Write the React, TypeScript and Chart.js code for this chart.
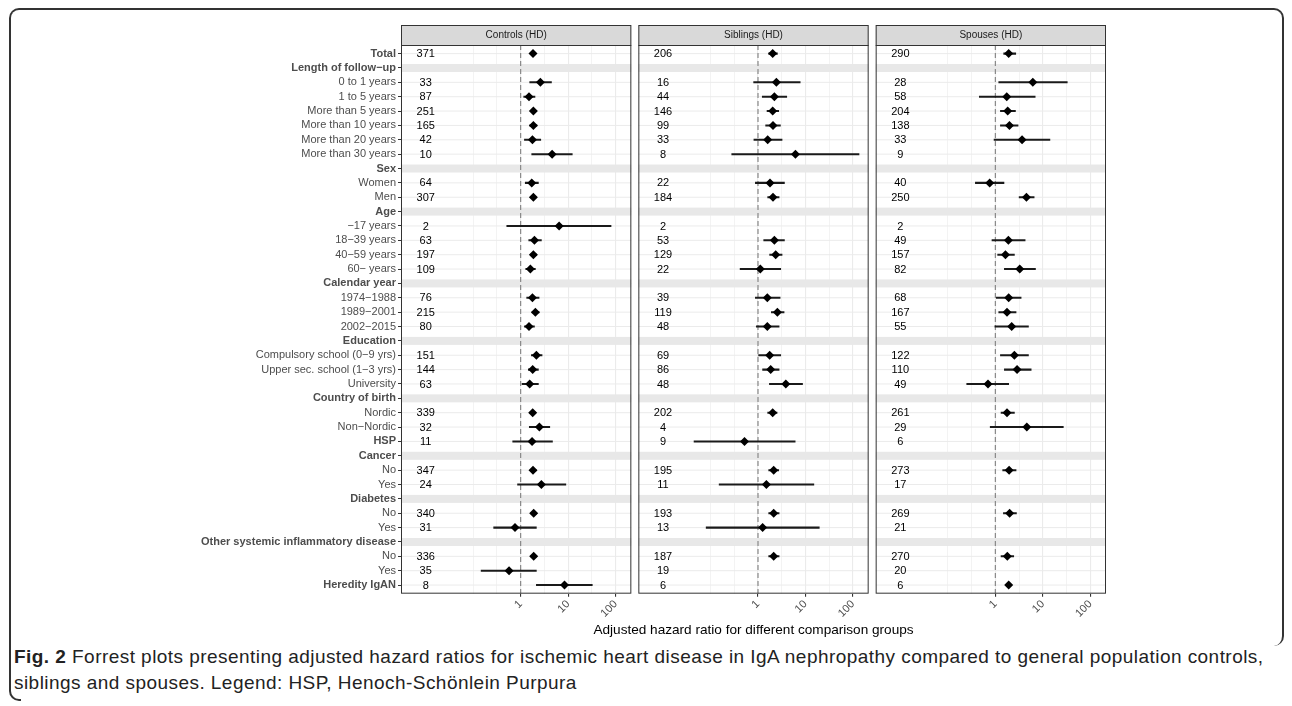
import React, { useEffect, useRef } from 'react';
import { Chart, registerables } from 'chart.js';

Chart.register(...registerables);

const FONT = "'Liberation Sans', Arial, Helvetica, sans-serif";

const ROW_LABELS = [
  'Total', 'Length of follow\u2212up', '0 to 1 years', '1 to 5 years', 'More than 5 years',
  'More than 10 years', 'More than 20 years', 'More than 30 years', 'Sex', 'Women', 'Men',
  'Age', '\u221217 years', '18\u221239 years', '40\u221259 years', '60\u2212 years',
  'Calendar year', '1974\u22121988', '1989\u22122001', '2002\u22122015', 'Education',
  'Compulsory school (0\u22129 yrs)', 'Upper sec. school (1\u22123 yrs)', 'University',
  'Country of birth', 'Nordic', 'Non\u2212Nordic', 'HSP', 'Cancer', 'No', 'Yes',
  'Diabetes', 'No', 'Yes', 'Other systemic inflammatory disease', 'No', 'Yes', 'Heredity IgAN',
];
// 'b' = bold single row, 'h' = bold group header with band, '' = normal
const ROW_KIND = [
  'b', 'h', '', '', '', '', '', '', 'h', '', '',
  'h', '', '', '', '',
  'h', '', '', '', 'h',
  '', '', '',
  'h', '', '', 'b', 'h', '', '',
  'h', '', '', 'h', '', '', 'b',
];

const PANEL_TITLES = ['Controls (HD)', 'Siblings (HD)', 'Spouses (HD)'];
const PANEL_IDS = ['x0', 'x1', 'x2'];

const N_CONTROLS = [371, null, 33, 87, 251, 165, 42, 10, null, 64, 307, null, 2, 63, 197, 109, null, 76, 215, 80, null, 151, 144, 63, null, 339, 32, 11, null, 347, 24, null, 340, 31, null, 336, 35, 8];
const HR_CONTROLS = [1.82, null, 2.6, 1.5, 1.85, 1.85, 1.77, 4.6, null, 1.71, 1.85, null, 6.46, 1.95, 1.85, 1.6, null, 1.77, 2.04, 1.5, null, 2.14, 1.79, 1.55, null, 1.79, 2.48, 1.74, null, 1.82, 2.73, null, 1.88, 0.76, null, 1.88, 0.57, 8.38];
const LO_CONTROLS = [1.6, null, 1.55, 1.16, 1.63, 1.55, 1.2, 1.71, null, 1.25, 1.63, null, 0.51, 1.48, 1.6, 1.28, null, 1.34, 1.74, 1.2, null, 1.68, 1.45, 1.07, null, 1.57, 1.52, 0.68, null, 1.6, 0.86, null, 1.65, 0.27, null, 1.65, 0.147, 2.14];
const HI_CONTROLS = [2.07, null, 4.45, 2.0, 2.15, 2.2, 2.65, 12.2, null, 2.36, 2.1, null, 80, 2.73, 2.18, 2.04, null, 2.44, 2.44, 1.95, null, 2.82, 2.36, 2.36, null, 2.07, 4.1, 4.67, null, 2.11, 8.94, null, 2.18, 2.14, null, 2.18, 2.14, 32.2];

const N_SIBLINGS = [206, null, 16, 44, 146, 99, 33, 8, null, 22, 184, null, 2, 53, 129, 22, null, 39, 119, 48, null, 69, 86, 48, null, 202, 4, 9, null, 195, 11, null, 193, 13, null, 187, 19, 6];
const HR_SIBLINGS = [2.04, null, 2.44, 2.21, 2.04, 2.07, 1.6, 6.15, null, 1.79, 2.07, null, null, 2.21, 2.36, 1.12, null, 1.57, 2.56, 1.57, null, 1.76, 1.85, 3.85, null, 2.04, null, 0.52, null, 2.14, 1.5, null, 2.14, 1.25, null, 2.14, null, null];
const LO_SIBLINGS = [1.68, null, 0.81, 1.23, 1.55, 1.45, 0.82, 0.28, null, 0.88, 1.6, null, null, 1.32, 1.76, 0.42, null, 0.88, 1.91, 0.92, null, 1.03, 1.25, 1.74, null, 1.6, null, 0.045, null, 1.68, 0.152, null, 1.68, 0.081, null, 1.68, null, null];
const HI_SIBLINGS = [2.56, null, 7.73, 4.03, 2.73, 2.96, 3.21, 134, null, 3.6, 2.78, null, null, 3.6, 3.21, 3.01, null, 2.92, 3.54, 2.78, null, 3.01, 2.78, 8.66, null, 2.52, null, 6.06, null, 2.73, 15.0, null, 2.78, 19.5, null, 2.78, null, null];

const N_SPOUSES = [290, null, 28, 58, 204, 138, 33, 9, null, 40, 250, null, 2, 49, 157, 82, null, 68, 167, 55, null, 122, 110, 49, null, 261, 29, 6, null, 273, 17, null, 269, 21, null, 270, 20, 6];
const HR_SPOUSES = [1.91, null, 6.15, 1.74, 1.82, 1.98, 3.66, null, null, 0.76, 4.52, null, null, 1.88, 1.63, 3.27, null, 1.91, 1.76, 2.21, null, 2.52, 2.87, 0.7, null, 1.76, 4.6, null, null, 1.95, null, null, 2.0, null, null, 1.79, null, 1.91];
const LO_SPOUSES = [1.5, null, 1.18, 0.46, 1.28, 1.28, 0.94, null, null, 0.38, 3.17, null, null, 0.85, 1.12, 1.55, null, 1.05, 1.18, 0.98, null, 1.28, 1.55, 0.25, null, 1.32, 0.78, null, null, 1.43, null, null, 1.48, null, null, 1.32, null, 1.75];
const HI_SPOUSES = [2.69, null, 32.7, 6.9, 2.65, 3.01, 14.1, null, null, 1.52, 6.56, null, null, 4.24, 2.52, 7.0, null, 3.49, 2.73, 4.98, null, 4.98, 5.68, 1.91, null, 2.52, 27.0, null, null, 2.73, null, null, 2.78, null, null, 2.44, null, 2.08];

const PANEL_N = [N_CONTROLS, N_SIBLINGS, N_SPOUSES];
const PANEL_HR = [HR_CONTROLS, HR_SIBLINGS, HR_SPOUSES];
const PANEL_LO = [LO_CONTROLS, LO_SIBLINGS, LO_SPOUSES];
const PANEL_HI = [HI_CONTROLS, HI_SIBLINGS, HI_SPOUSES];

const X_GRID_VALUES = [0.1, 0.3162, 1, 3.162, 10, 31.62, 100];
const X_TICK_LABELS = ['', '', '1', '', '10', '', '100'];
const X_MIN = 0.00302;
const X_MAX = 214;
const N_TEXT_X = 0.01;
const REF_LINE_X = 1;

const AXIS_TITLE = 'Adjusted hazard ratio for different comparison groups';

const facetPlugin = {
  id: 'facets',
  beforeDatasetsDraw(chart: any) {
    const { ctx, chartArea, scales } = chart;
    const ys = scales.y;
    ctx.save();
    PANEL_IDS.forEach((id, p) => {
      const xs = scales[id];
      ctx.strokeStyle = '#ebebeb';
      ctx.lineWidth = 1;
      ROW_LABELS.forEach((_, i) => {
        const py = ys.getPixelForValue(i + 1);
        ctx.beginPath();
        ctx.moveTo(xs.left, py);
        ctx.lineTo(xs.right, py);
        ctx.stroke();
      });
      ctx.fillStyle = '#e8e8e8';
      ROW_KIND.forEach((k, i) => {
        if (k === 'h') {
          const py = ys.getPixelForValue(i + 1);
          ctx.fillRect(xs.left, py - 4, xs.width, 8);
        }
      });
      const xr = xs.getPixelForValue(REF_LINE_X);
      ctx.setLineDash([5, 3]);
      ctx.strokeStyle = '#7f7f7f';
      ctx.lineWidth = 1.1;
      ctx.beginPath();
      ctx.moveTo(xr, chartArea.top);
      ctx.lineTo(xr, chartArea.bottom);
      ctx.stroke();
      ctx.setLineDash([]);
      ctx.fillStyle = '#000';
      ctx.font = `11px ${FONT}`;
      ctx.textAlign = 'center';
      ctx.textBaseline = 'middle';
      PANEL_N[p].forEach((n, i) => {
        if (n != null) ctx.fillText(String(n), xs.getPixelForValue(N_TEXT_X), ys.getPixelForValue(i + 1) + 0.5);
      });
    });
    ctx.restore();
  },
  afterDraw(chart: any) {
    const { ctx, chartArea, scales } = chart;
    ctx.save();
    PANEL_IDS.forEach((id, p) => {
      const xs = scales[id];
      const top = chartArea.top - 20;
      ctx.fillStyle = '#d9d9d9';
      ctx.fillRect(xs.left, top, xs.width, 20);
      ctx.strokeStyle = '#333333';
      ctx.lineWidth = 1;
      ctx.strokeRect(xs.left + 0.5, top + 0.5, xs.width - 1, 20);
      ctx.strokeRect(xs.left + 0.5, chartArea.top + 0.5, xs.width - 1, chartArea.height - 1);
      ctx.fillStyle = '#1a1a1a';
      ctx.font = `10px ${FONT}`;
      ctx.textAlign = 'center';
      ctx.textBaseline = 'middle';
      ctx.fillText(PANEL_TITLES[p], (xs.left + xs.right) / 2, top + 10.5);
    });
    ctx.restore();
  },
};

function buildDatasets() {
  const sets: any[] = [];
  PANEL_IDS.forEach((id, p) => {
    const bars: any[] = [];
    const pts: any[] = [];
    PANEL_HR[p].forEach((hr, i) => {
      if (hr == null) return;
      bars.push({ y: i + 1, x: [PANEL_LO[p][i], PANEL_HI[p][i]] });
      pts.push({ x: hr, y: i + 1 });
    });
    sets.push({
      type: 'bar',
      indexAxis: 'y',
      xAxisID: id,
      yAxisID: 'y',
      data: bars,
      backgroundColor: '#1a1a1a',
      borderWidth: 0,
      barThickness: 1.4,
      grouped: false,
      order: 2,
    });
    sets.push({
      type: 'scatter',
      xAxisID: id,
      yAxisID: 'y',
      data: pts,
      pointStyle: 'rectRot',
      pointRadius: 4.5,
      pointHoverRadius: 4.5,
      backgroundColor: '#000000',
      borderWidth: 0,
      order: 1,
    });
  });
  return sets;
}

function buildScales() {
  const PANEL_W = (705 - 14) / 3;
  const scales: any = {
    y: {
      type: 'linear',
      axis: 'y',
      position: 'left',
      reverse: true,
      offset: false,
      beginAtZero: false,
      min: 0.4,
      max: 38.6,
      afterBuildTicks: (s: any) => {
        s.ticks = ROW_LABELS.map((_, i) => ({ value: i + 1 }));
      },
      afterFit: (s: any) => {
        s.width = 401;
      },
      ticks: {
        autoSkip: false,
        padding: 2,
        callback: (v: any) => ROW_LABELS[Math.round(v) - 1],
        font: (c: any) => ({
          family: FONT,
          size: 11,
          weight: ROW_KIND[c.index] ? 'bold' : 'normal',
        }),
        color: '#4d4d4d',
      },
      grid: { offset: false, drawOnChartArea: false, tickLength: 3, tickColor: '#333333', lineWidth: 1 },
      border: { display: false },
    },
  };
  let w = 1;
  PANEL_IDS.forEach((id, p) => {
    scales[id] = {
      type: 'logarithmic',
      axis: 'x',
      position: 'bottom',
      stack: 'panels',
      stackWeight: PANEL_W,
      weight: w++,
      offset: false,
      beginAtZero: false,
      min: X_MIN,
      max: X_MAX,
      afterBuildTicks: (s: any) => {
        s.ticks = X_GRID_VALUES.map((v) => ({ value: v }));
      },
      afterFit: (s: any) => {
        s.height = 26;
      },
      ticks: {
        autoSkip: false,
        minRotation: 45,
        maxRotation: 45,
        padding: 1,
        color: '#4d4d4d',
        font: { family: FONT, size: 11 },
        callback: (_v: any, idx: number) => X_TICK_LABELS[idx],
      },
      grid: {
        offset: false,
        color: '#ebebeb',
        lineWidth: (c: any) => (X_TICK_LABELS[c.index] ? 1.1 : 0.6),
        tickLength: 3,
        tickColor: (c: any) => (X_TICK_LABELS[c.index] ? '#333333' : 'rgba(0,0,0,0)'),
      },
      border: { display: false },
    };
    if (p < 2) {
      scales['gap' + p] = {
        type: 'linear',
        axis: 'x',
        position: 'bottom',
        stack: 'panels',
        stackWeight: 7,
        weight: w++,
        display: false,
      };
    }
  });
  return scales;
}

function ForestChart() {
  const ref = useRef<HTMLCanvasElement | null>(null);
  useEffect(() => {
    if (!ref.current) return;
    const chart = new Chart(ref.current, {
      type: 'scatter',
      data: { datasets: buildDatasets() },
      options: {
        animation: false,
        responsive: false,
        events: [],
        layout: { padding: { left: 0, right: 186, top: 45, bottom: 2 } },
        scales: buildScales(),
        plugins: {
          legend: { display: false },
          tooltip: { enabled: false },
          title: {
            display: true,
            text: AXIS_TITLE,
            position: 'bottom',
            fullSize: false,
            color: '#000000',
            font: { family: FONT, size: 13.6, weight: 'normal' },
            padding: { top: 2, bottom: 0 },
          },
        },
      } as any,
      plugins: [facetPlugin],
    });
    return () => chart.destroy();
  }, []);
  return (
    <canvas
      ref={ref}
      width={1292}
      height={640}
      style={{ position: 'absolute', left: 0, top: 0, width: 1292, height: 640 }}
    />
  );
}

export default function App() {
  return (
    <div style={{ position: 'absolute', left: 0, top: 0, width: 1292, height: 706, background: '#fff', overflow: 'hidden' }}>
      <div
        style={{
          position: 'absolute', left: 9, top: 8, width: 1275, height: 638, boxSizing: 'border-box',
          borderTop: '2px solid #333', borderLeft: '2px solid #333', borderRight: '2px solid #333',
          borderTopLeftRadius: 10, borderTopRightRadius: 10, borderBottomRightRadius: 10,
        }}
      />
      <div
        style={{
          position: 'absolute', left: 9, top: 620, width: 12, height: 81, boxSizing: 'border-box',
          borderLeft: '2px solid #333', borderBottom: '2px solid #333', borderBottomLeftRadius: 10,
        }}
      />
      <ForestChart />
      <div
        style={{
          position: 'absolute', left: 14, top: 644, whiteSpace: 'nowrap',
          fontFamily: FONT, fontSize: 19, letterSpacing: '0.45px', lineHeight: '26px', color: '#222222',
        }}
      >
        <b>Fig. 2</b> Forrest plots presenting adjusted hazard ratios for ischemic heart disease in IgA nephropathy compared to general population controls,
        <br />
        siblings and spouses. Legend: HSP, Henoch-Sch{'\u00f6'}nlein Purpura
      </div>
    </div>
  );
}
